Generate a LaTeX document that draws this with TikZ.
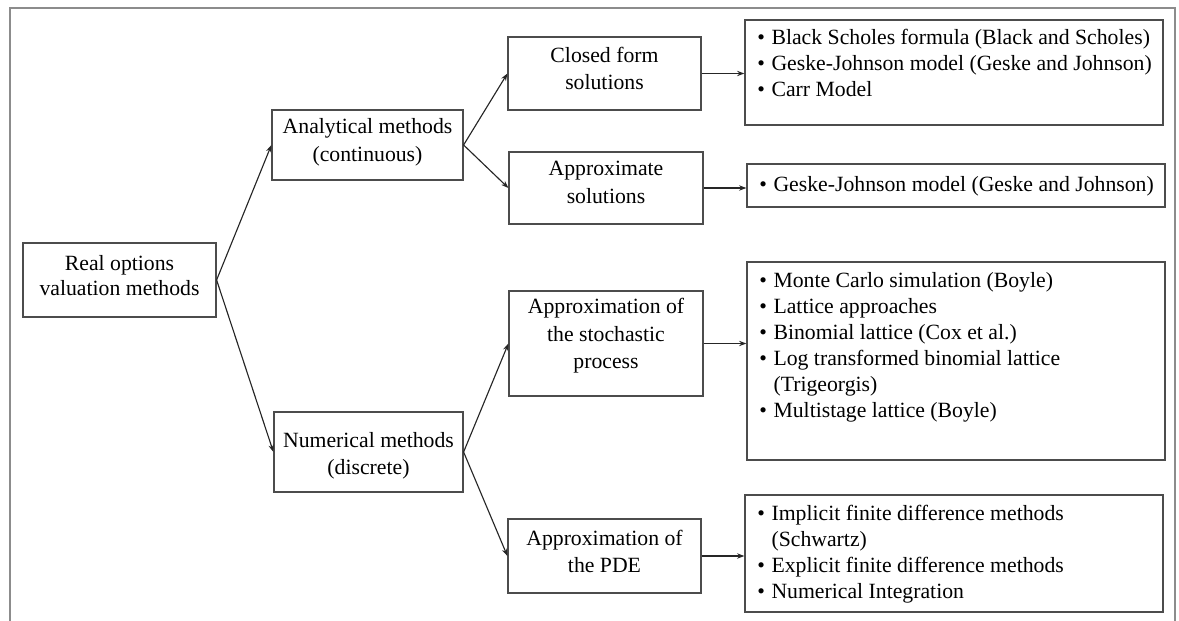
\documentclass[tikz,border=0pt]{standalone}
\usepackage{fontspec}
\setmainfont{Liberation Serif}
\usetikzlibrary{arrows.meta,fit,calc}
\begin{document}
\begin{tikzpicture}[x=0.75pt,y=-0.75pt,
  box/.style={draw=black!70, line width=0.9pt, inner sep=0pt},
  midtext/.style={inner sep=0pt, align=center,
              font=\fontsize{16.3}{20.6}\selectfont},
  roottext/.style={inner sep=0pt, align=center,
              font=\fontsize{16.3}{19}\selectfont},
  listtext/.style={anchor=base west, inner sep=0pt,
              font=\fontsize{16.3}{19.5}\selectfont},
  conn/.style={-{Stealth[length=5.5pt,width=4pt]}, line width=0.85pt, draw=black!85}
]
\useasboundingbox (0,0) rectangle (1179,621);
\draw[black!45, line width=1.5pt] (10,621) -- (10,8) -- (1175,8) -- (1175,621);

% boxes
\node[box, fit={(23,243) (216,317)}] (root) {};
\node[box, fit={(272,110) (463,180)}] (ana) {};
\node[box, fit={(274,412) (463,492)}] (num) {};
\node[box, fit={(508,37) (701,110)}] (closed) {};
\node[box, fit={(509,152) (703,224)}] (approx) {};
\node[box, fit={(509,291) (703,396)}] (stoch) {};
\node[box, fit={(508,519) (701,593)}] (pde) {};
\node[box, fit={(745,20) (1163,125)}] (b1) {};
\node[box, fit={(747,164) (1165,207)}] (b2) {};
\node[box, fit={(747,262) (1165,460)}] (b3) {};
\node[box, fit={(745,495) (1163,612)}] (b4) {};

% centred labels
\node[roottext] (troot) at ($(root.center)+(0,-4.5)$) {Real options\\valuation methods};
\node[midtext] (tana) at ($(ana.center)+(0,-2.5)$) {Analytical methods\\(continuous)};
\node[midtext] (tnum) at ($(num.center)+(0,4)$) {Numerical methods\\(discrete)};
\node[midtext] (tclosed) at ($(closed.center)+(0,-5)$) {Closed form\\solutions};
\node[midtext] (tapprox) at ($(approx.center)+(0,-5.5)$) {Approximate\\solutions};
\node[midtext] (tstoch) at ($(stoch.center)+(0,-7.5)$) {Approximation of\\the stochastic\\process};
\node[midtext] (tpde) at ($(pde.center)+(0,-4.5)$) {Approximation of\\the PDE};

% lists
\node[listtext] (l1) at (757,45) {\begin{tabular}[t]{@{}l@{\hspace{5pt}}l@{}}
\textbullet & Black Scholes formula (Black and Scholes)\\
\textbullet & Geske-Johnson model (Geske and Johnson)\\
\textbullet & Carr Model
\end{tabular}};
\node[listtext] (l2) at (759,191) {\begin{tabular}[t]{@{}l@{\hspace{5pt}}l@{}}
\textbullet & Geske-Johnson model (Geske and Johnson)
\end{tabular}};
\node[listtext] (l3) at (759,287) {\begin{tabular}[t]{@{}l@{\hspace{5pt}}l@{}}
\textbullet & Monte Carlo simulation (Boyle)\\
\textbullet & Lattice approaches\\
\textbullet & Binomial lattice (Cox et al.)\\
\textbullet & Log transformed binomial lattice\\
 & (Trigeorgis)\\
\textbullet & Multistage lattice (Boyle)
\end{tabular}};
\node[listtext] (l4) at (757,520) {\begin{tabular}[t]{@{}l@{\hspace{5pt}}l@{}}
\textbullet & Implicit finite difference methods\\
 & (Schwartz)\\
\textbullet & Explicit finite difference methods\\
\textbullet & Numerical Integration
\end{tabular}};

% connectors
\draw[conn] (root.east) -- (ana.west);
\draw[conn] (root.east) -- (num.west);
\draw[conn] (ana.east) -- (closed.west);
\draw[conn] (ana.east) -- (approx.west);
\draw[conn] (num.east) -- (stoch.west);
\draw[conn] (num.east) -- (pde.west);
\draw[conn] (closed.east) -- (closed.east -| b1.west);
\draw[conn] (approx.east) -- (approx.east -| b2.west);
\draw[conn] (stoch.east) -- (stoch.east -| b3.west);
\draw[conn] (pde.east) -- (pde.east -| b4.west);
\end{tikzpicture}
\end{document}
